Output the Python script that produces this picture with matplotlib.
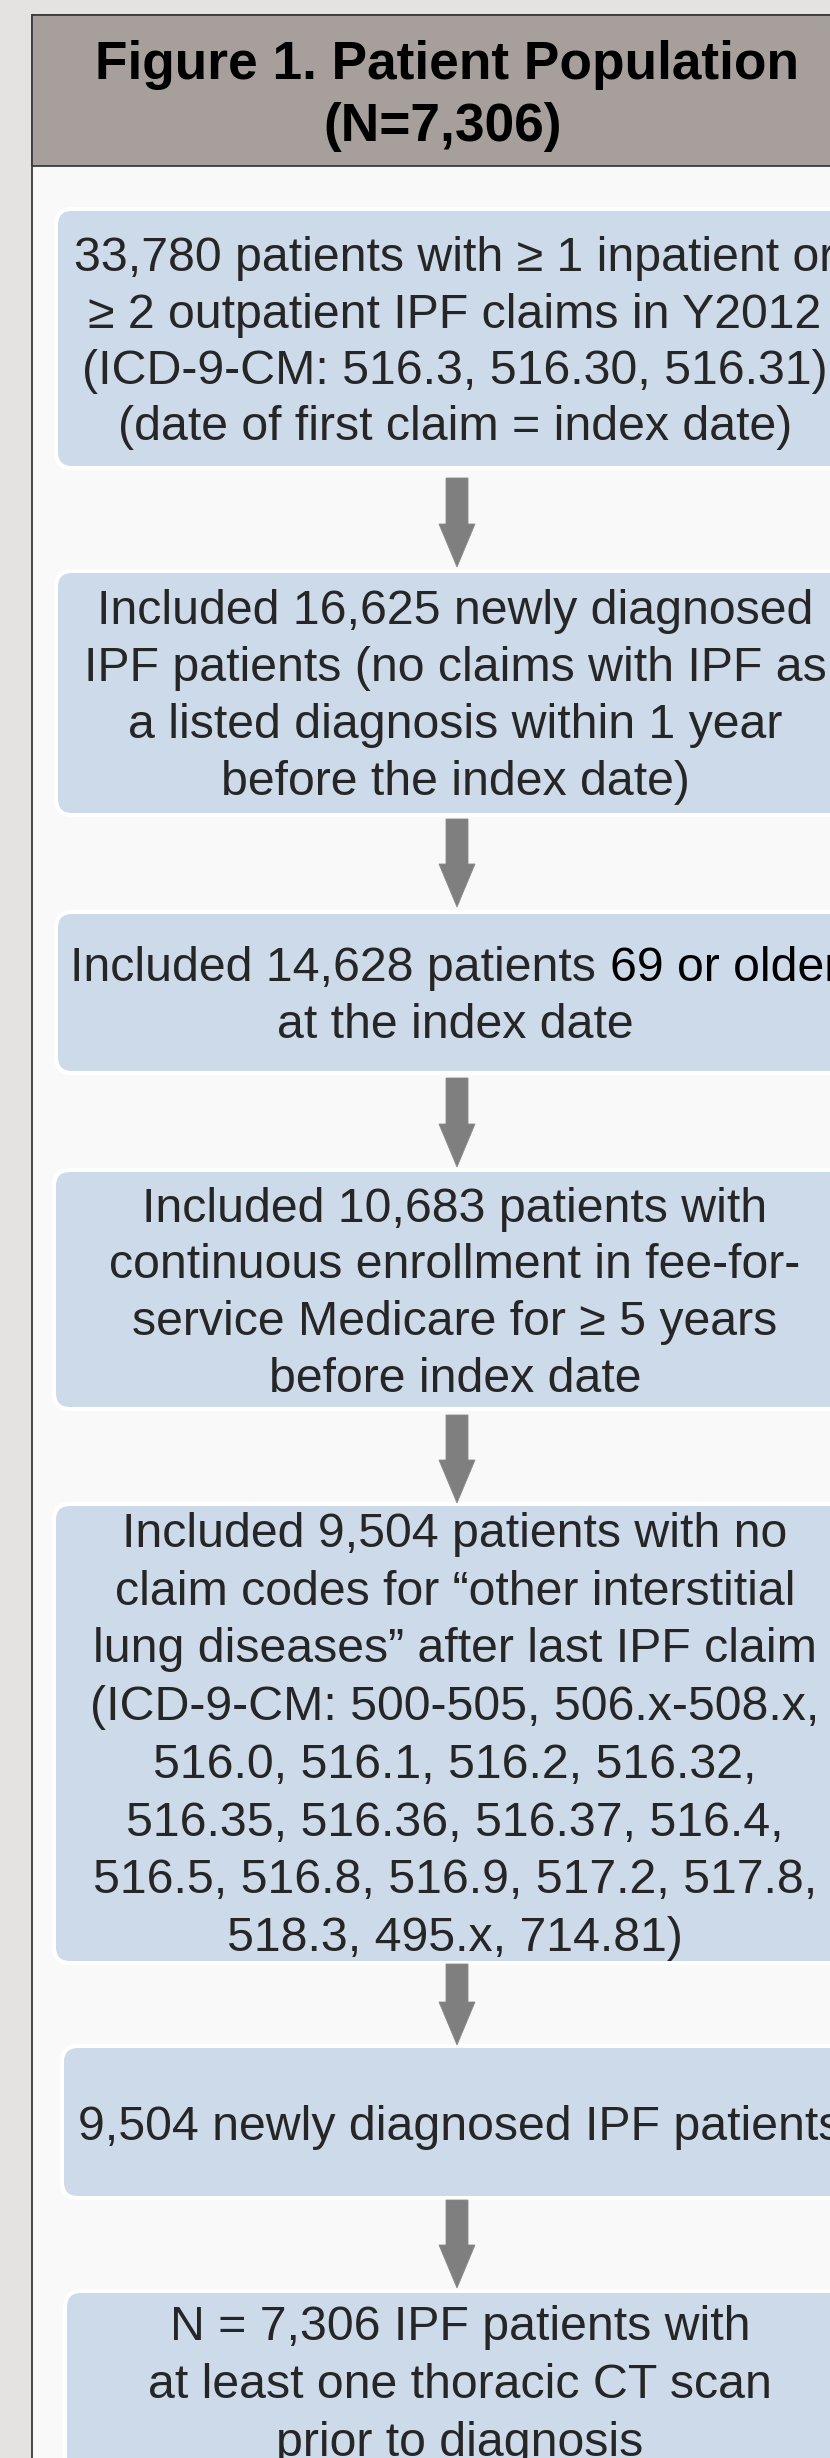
import matplotlib
matplotlib.use("Agg")
import matplotlib.pyplot as plt
from matplotlib.patches import FancyBboxPatch, Rectangle, FancyArrow

# ---------------- data (text content of the flow chart) ----------------
title_lines = ["Figure 1. Patient Population", "(N=7,306)"]

box_lines = [
    ["33,780 patients with \u2265 1 inpatient or",
     "\u2265 2 outpatient IPF claims in Y2012",
     "(ICD-9-CM: 516.3, 516.30, 516.31)",
     "(date of first claim = index date)"],
    ["Included 16,625 newly diagnosed",
     "IPF patients (no claims with IPF as",
     "a listed diagnosis within 1 year",
     "before the index date)"],
    ["Included 14,628 patients 69 or older",
     "at the index date"],
    ["Included 10,683 patients with",
     "continuous enrollment in fee-for-",
     "service Medicare for \u2265 5 years",
     "before index date"],
    ["Included 9,504 patients with no",
     "claim codes for \u201cother interstitial",
     "lung diseases\u201d after last IPF claim",
     "(ICD-9-CM: 500-505, 506.x-508.x,",
     "516.0, 516.1, 516.2, 516.32,",
     "516.35, 516.36, 516.37, 516.4,",
     "516.5, 516.8, 516.9, 517.2, 517.8,",
     "518.3, 495.x, 714.81)"],
    ["9,504 newly diagnosed IPF patients"],
    ["N = 7,306 IPF patients with",
     "at least one thoracic CT scan",
     "prior to diagnosis"],
]
# (box index, line index, emphasised tail of that line)
emphasis = [(2, 0, "69 or older")]

# ---------------- layout (pixels) ----------------
W, H, DPI = 830, 2458, 100
box_top = [211, 573, 914, 1172, 1506, 2048, 2293]
box_bottom = [466, 813, 1071, 1407, 1961, 2196, 2540]
box_left = [58, 58, 58, 56, 56, 64, 67]
box_cx = [455, 455, 455, 455, 455, 460, 460]
first_baseline = [271, 624, 981, 1222, 1547, 2140, 2340]
line_step = [56.5, 57, 57, 56.5, 57.7, 57, 58]
arrows = [(478, 567), (819, 907), (1078, 1167), (1415, 1503), (1964, 2045), (2200, 2288)]
arrow_x = 457

BG = "#e4e3e1"
HEADER = "#a69f9c"
BODY = "#f9f9f9"
BOX = "#cddaea"
TEXT = "#262626"
ARROW = "#7f7f7f"
FONT = "Liberation Sans"
px2pt = 72.0 / DPI

fig = plt.figure(figsize=(W / DPI, H / DPI), dpi=DPI, facecolor=BG)
ax = fig.add_axes([0, 0, 1, 1])
ax.set_xlim(0, W)
ax.set_ylim(H, 0)
ax.axis("off")
ax.set_facecolor(BG)

# panel body and header
ax.add_patch(Rectangle((32, 15), 900, 2600, facecolor=BODY, edgecolor="#3c3c3c", lw=1.3))
ax.add_patch(Rectangle((32, 15), 900, 151, facecolor=HEADER, edgecolor="#3c3c3c", lw=1.3))

# title
title_size = 53.2 * px2pt
title_x = [447, 443]
title_base = [79, 141]
for s, x, y in zip(title_lines, title_x, title_base):
    ax.text(x, y, s, ha="center", va="baseline", fontsize=title_size,
            fontweight="bold", family=FONT, color="black")

# boxes
body_size = 48.2 * px2pt
for i, lines in enumerate(box_lines):
    x0 = box_left[i]
    w = 2 * (box_cx[i] - x0)
    y0 = box_top[i]
    h = box_bottom[i] - y0
    halo = 4
    ax.add_patch(FancyBboxPatch((x0 - halo, y0 - halo), w + 2 * halo, h + 2 * halo,
                                boxstyle="round,pad=0,rounding_size=18",
                                facecolor="white", edgecolor="none"))
    ax.add_patch(FancyBboxPatch((x0, y0), w, h,
                                boxstyle="round,pad=0,rounding_size=14",
                                facecolor=BOX, edgecolor="none"))
    for j, s in enumerate(lines):
        y = first_baseline[i] + j * line_step[i]
        tails = [tl for (bi, lj, tl) in emphasis if bi == i and lj == j]
        if not tails:
            ax.text(box_cx[i], y, s, ha="center", va="baseline",
                    fontsize=body_size, family=FONT, color=TEXT)
        else:
            tail = tails[0]
            head = s[:len(s) - len(tail)]
            # invisible full line fixes the centred position
            full = ax.text(box_cx[i], y, s, ha="center", va="baseline",
                           fontsize=body_size, family=FONT, color=TEXT, alpha=0)
            ax.annotate(head, xy=(0, 0), xycoords=full, ha="left", va="bottom",
                        fontsize=body_size, family=FONT, color=TEXT)
            ax.annotate(tail, xy=(1, 0), xycoords=full, ha="right", va="bottom",
                        fontsize=body_size, family=FONT, color="black")

# arrows
for top, tip in arrows:
    ax.add_patch(FancyArrow(arrow_x, top, 0, tip - top, width=22, head_width=36,
                            head_length=43, length_includes_head=True,
                            facecolor=ARROW, edgecolor="#8a8a8a", lw=0.6))

fig.savefig("out.png", dpi=DPI, facecolor=BG)
